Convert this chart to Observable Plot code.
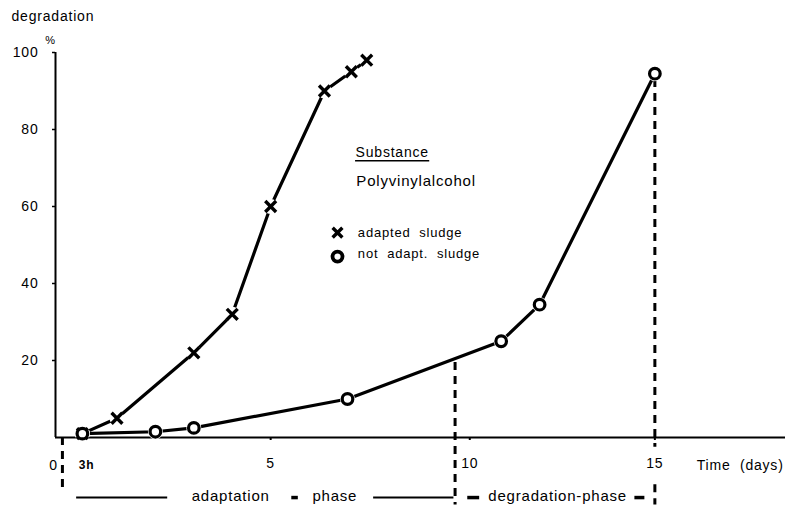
<!DOCTYPE html>
<html><head><meta charset="utf-8">
<script src="https://cdn.jsdelivr.net/npm/d3@7"></script>
<script src="https://cdn.jsdelivr.net/npm/@observablehq/plot@0.6"></script>
<style>
body{margin:0;background:#fff;}
#chart svg text{letter-spacing:0.8px;}
</style></head><body><div id="chart"></div>
<script>
// Data
const adaptedDays = [0.1, 1, 3, 4, 5, 6.4, 7.1, 7.5];
const adaptedPct = [1, 5, 22, 32, 60, 90, 95, 98];
const notAdaptedDays = [0.1, 2, 3, 7, 11, 12, 15];
const notAdaptedPct = [1, 1.5, 2.5, 10, 25, 34.5, 94.5];
const yTicks = [20, 40, 60, 80, 100];
const xTicks = [5, 10, 15];
// phase boundary segments (day, from %, to %)
const phaseDays = [-0.42, 9.8, 15, 15];
const phaseTopPct = [0, 19.5, 93, -12.3];
const phaseBottomPct = [-14, -17.5, -2.5, -17.5];
const seriesNames = ["adapted sludge", "not adapt. sludge"];

const adapted = adaptedDays.map((d, i) => ({day: d, pct: adaptedPct[i]}));
const notAdapted = notAdaptedDays.map((d, i) => ({day: d, pct: notAdaptedPct[i]}));
const phases = phaseDays.map((d, i) => ({day: d, top: phaseTopPct[i], bottom: phaseBottomPct[i]}));

const xMin = -0.6, xMax = 18.4;
const rowY = -15.2;
const ink = "#000";

const chart = Plot.plot({
  width: 788, height: 509,
  marginLeft: 55, marginRight: 3, marginTop: 52, marginBottom: 72,
  style: {fontFamily: "'Liberation Sans', Arial, sans-serif", fontSize: "14px", color: ink, background: "#fff"},
  x: {domain: [xMin, xMax], axis: null},
  y: {domain: [0, 100], axis: null},
  marks: [
    Plot.axisX({ticks: xTicks.filter((t) => t !== 10), tickSize: 3, tickPadding: 18, label: null, fontSize: 14, strokeWidth: 2}),
    Plot.axisX({ticks: xTicks.filter((t) => t === 10), tickSize: 3, tickPadding: 18, label: null, fontSize: 14, strokeWidth: 2, dx: 7}),
    Plot.axisY({ticks: yTicks, tickSize: 3, tickPadding: 14, label: null, fontSize: 14, strokeWidth: 1.5}),
    Plot.ruleY([0], {stroke: ink, strokeWidth: 2}),
    Plot.ruleX([xMin], {y1: 0, y2: 100, stroke: ink, strokeWidth: 2}),
    // phase boundaries
    Plot.ruleX(phases, {x: "day", y1: "top", y2: "bottom", stroke: ink, strokeWidth: 3, strokeDasharray: "8,6"}),
    // series lines
    Plot.line(adapted, {x: "day", y: "pct", stroke: ink, strokeWidth: 3.2}),
    Plot.line(notAdapted, {x: "day", y: "pct", stroke: ink, strokeWidth: 3.2}),
    Plot.dot(adapted.concat(notAdapted), {x: "day", y: "pct", r: 7.5, fill: "#fff", stroke: null}),
    Plot.dot(adapted, {x: "day", y: "pct", symbol: "times", r: 5, stroke: ink, strokeWidth: 3.4}),
    Plot.dot(notAdapted, {x: "day", y: "pct", symbol: "circle", r: 5.3, fill: "#fff", stroke: ink, strokeWidth: 3.2}),
    // axis texts
    Plot.text(["degradation"], {x: -1.745, y: 109.4, text: (d) => d, textAnchor: "start", fontSize: 14}),
    Plot.text(["%"], {x: -0.73, y: 103.1, text: (d) => d, fontSize: 11}),
    Plot.text(["0"], {x: -0.65, y: -7.27, text: (d) => d, fontSize: 14}),
    Plot.text(["3h"], {x: 0.21, y: -7.27, text: (d) => d, fontSize: 12, fontWeight: "bold"}),
    Plot.text(["Time  (days)"], {x: 16.09, y: -7.27, text: (d) => d, textAnchor: "start", fontSize: 14}),
    // legend
    Plot.text(["Substance"], {x: 7.21, y: 74.0, text: (d) => d, textAnchor: "start", fontSize: 14}),
    Plot.ruleY([71.9], {x1: 7.21, x2: 9.14, stroke: ink, strokeWidth: 1.5}),
    Plot.text(["Polyvinylalcohol"], {x: 7.23, y: 66.5, text: (d) => d, textAnchor: "start", fontSize: 15}),
    Plot.dot([seriesNames[0]], {x: 6.74, y: 53.2, symbol: "times", r: 4.5, stroke: ink, strokeWidth: 3.4}),
    Plot.dot([seriesNames[1]], {x: 6.74, y: 47.0, symbol: "circle", r: 5, fill: "#fff", stroke: ink, strokeWidth: 3.8}),
    Plot.text([seriesNames[0]], {x: 7.27, y: 53.2, text: (d) => d.replace(" ", "  "), textAnchor: "start", fontSize: 13}),
    Plot.text([seriesNames[1]], {x: 7.27, y: 47.6, text: (d) => d.replace(/ /g, "  "), textAnchor: "start", fontSize: 13}),
    // phase row below axis
    Plot.ruleY([{x1: -0.05, x2: 2.32}, {x1: 7.68, x2: 9.77}], {y: rowY - 0.4, x1: "x1", x2: "x2", stroke: ink, strokeWidth: 2}),
    Plot.ruleY([{x1: 5.55, x2: 5.72}, {x1: 10.13, x2: 10.44}, {x1: 14.48, x2: 14.74}], {y: rowY - 0.4, x1: "x1", x2: "x2", stroke: ink, strokeWidth: 3.5}),
    Plot.text(["adaptation"], {x: 3.96, y: rowY, text: (d) => d, fontSize: 15, style: "letter-spacing:0.3px"}),
    Plot.text(["phase"], {x: 6.67, y: rowY, text: (d) => d, fontSize: 15}),
    Plot.text(["degradation-phase"], {x: 12.47, y: rowY, text: (d) => d, fontSize: 15})
  ]
});
document.getElementById("chart").append(chart);
</script></body></html>
